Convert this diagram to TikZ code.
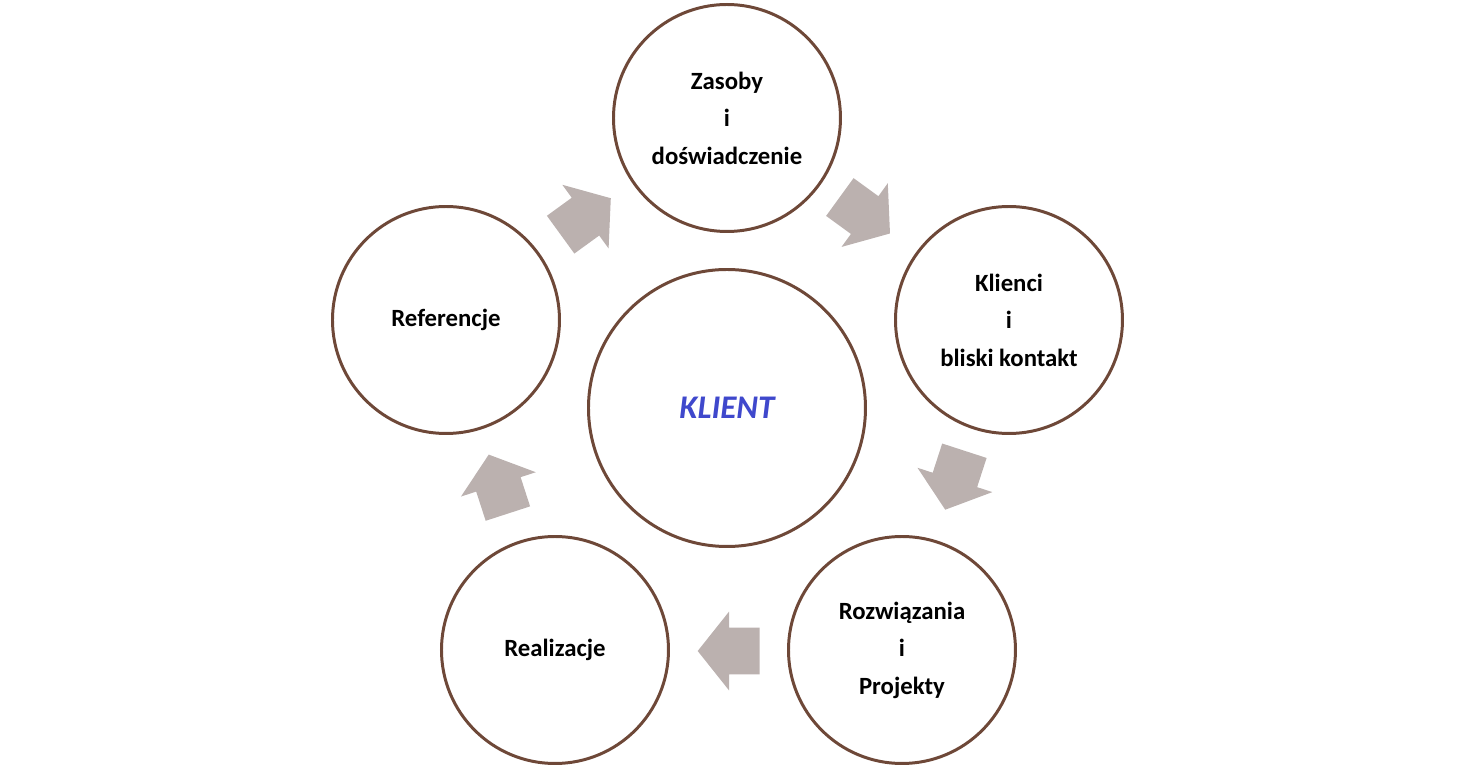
\documentclass[tikz,border=0pt]{standalone}
\usepackage{xcolor}
\usepackage{fontspec}
\setmainfont{Carlito}
\usepackage{tikz}
\usetikzlibrary{shapes.arrows,positioning,calc}
\definecolor{ringbrown}{RGB}{110,72,56}
\definecolor{arrowgray}{RGB}{187,177,175}
\definecolor{klientblue}{RGB}{63,72,204}

\begin{document}
\begin{tikzpicture}[
        ring/.style = {circle, draw = ringbrown, line width = 1.7pt, minimum size = 4.54cm, inner sep = 0pt, align = center, font = \bfseries\fontsize{14.1}{21.3}\selectfont},
        flow/.style = {single arrow, fill = arrowgray, draw = none, inner xsep = 0pt, inner ysep = 0.46cm, minimum height = 1.24cm, single arrow head extend = 0.32cm, single arrow tip angle = 103}
    ]
        \useasboundingbox (-14.54,-7.2) rectangle (14.6,8.16);
        \node (klient) at (0,0) [circle, draw = ringbrown, line width = 1.7pt, minimum size = 5.54cm, font = \bfseries\itshape\fontsize{18.8}{23}\selectfont, text = klientblue] {KLIENT};
        \node (zasoby) at (0,5.8) [ring] {Zasoby\\i\\doświadczenie};
        \node (klienci) at (5.64,1.76) [ring] {Klienci\\i\\bliski kontakt};
        \node (rozw) at (3.5,-4.84) [ring] {Rozwiązania\\i\\Projekty};
        \node (realiz) at (-3.44,-4.84) [ring] {Realizacje};
        \node (ref) at (-5.62,1.76) [ring] {Referencje};
        \node (ar1) at ($(126:4.76)+(216:0.22)$) [flow, rotate = 36] {};
        \node (ar2) at ($(54:4.74)+(144:0.22)$) [flow, rotate = -36] {};
        \node (ar3) at ($(-18:4.78)+(72:0.22)$) [flow, rotate = -108] {};
        \node (ar4) at ($(-90:4.86)+(0:0.22)$) [flow, rotate = 180] {};
        \node (ar5) at ($(-162:4.82)+(-72:0.22)$) [flow, rotate = 108] {};
    \end{tikzpicture}
\end{document}
